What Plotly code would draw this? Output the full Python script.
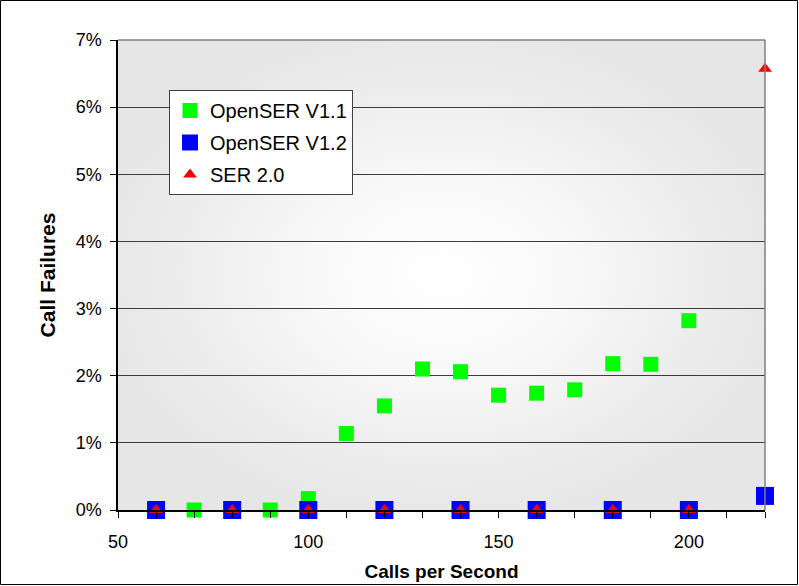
import base64
import plotly.graph_objects as go

# Data
v11_x = [60, 70, 80, 90, 100, 110, 120, 130, 140, 150, 160, 170, 180, 190, 200]
v11_y = [0.0, 0.0, 0.0, 0.0, 0.17, 1.14, 1.55, 2.10, 2.06, 1.71, 1.74, 1.79, 2.18, 2.17, 2.82]

v12_x = [60, 80, 100, 120, 140, 160, 180, 200, 220]
v12_y = [0.0, 0.0, 0.0, 0.0, 0.0, 0.0, 0.0, 0.0, 0.21]

ser_x = [60, 80, 100, 120, 140, 160, 180, 200, 220]
ser_y = [0.0, 0.0, 0.0, 0.0, 0.0, 0.0, 0.0, 0.0, 6.57]

x_range = [50, 220]
y_range = [0, 7]
x_ticks = [50, 100, 150, 200]
y_ticks = [0, 1, 2, 3, 4, 5, 6, 7]
y_ticktext = [f"{v}%" for v in y_ticks]

W, H = 799, 586
ML, MR, MT, MB = 118, 34, 40, 76
PW, PH = W - ML - MR, H - MT - MB

# radial grey gradient for the plot area background (as an SVG image)
svg = (
    '<svg xmlns="http://www.w3.org/2000/svg" width="200" height="200" viewBox="0 0 200 200" '
    'preserveAspectRatio="none">'
    '<defs><radialGradient id="g" cx="50%" cy="50%" r="55%">'
    '<stop offset="0" stop-color="#ffffff"/>'
    '<stop offset="0.35" stop-color="#f9f9f9"/>'
    '<stop offset="0.75" stop-color="#ececec"/>'
    '<stop offset="1" stop-color="#e6e6e6"/>'
    '</radialGradient></defs>'
    '<rect width="200" height="200" fill="url(#g)"/></svg>'
)
bg_src = "data:image/svg+xml;base64," + base64.b64encode(svg.encode()).decode()

fig = go.Figure()

fig.add_trace(go.Scatter(
    x=v11_x, y=v11_y, mode="markers", name="OpenSER V1.1", legendgroup="a",
    marker=dict(symbol="square", size=15, color="#00ff00", line=dict(width=0)),
    cliponaxis=False,
))
fig.add_trace(go.Scatter(
    x=v12_x, y=v12_y, mode="markers", name="OpenSER V1.2", legendgroup="b",
    marker=dict(symbol="square", size=18, color="#0000ff", line=dict(width=0)),
    cliponaxis=False,
))
fig.add_trace(go.Scatter(
    x=ser_x, y=ser_y, mode="markers", name="SER 2.0", legendgroup="c",
    marker=dict(symbol="triangle-up", size=12, color="#ff0000", line=dict(width=0)),
    cliponaxis=False,
))

FAM = "Liberation Sans, Arial, sans-serif"

fig.update_layout(
    width=W, height=H,
    margin=dict(l=ML, r=MR, t=MT, b=MB, autoexpand=False),
    paper_bgcolor="#ffffff",
    plot_bgcolor="#e8e8e8",
    font=dict(family=FAM, size=18, color="#000000"),
    showlegend=True,
    images=[dict(source=bg_src, xref="paper", yref="paper", x=0, y=1,
                 sizex=1, sizey=1, sizing="stretch", layer="below",
                 xanchor="left", yanchor="top")],
    legend=dict(
        x=(169 - ML) / PW, y=1 - (90 - MT) / PH,
        xanchor="left", yanchor="top",
        bgcolor="#ffffff", bordercolor="#404040", borderwidth=1,
        font=dict(family=FAM, size=20, color="#000000"),
        tracegroupgap=3, itemwidth=30,
    ),
    xaxis=dict(
        range=x_range, tickvals=x_ticks, ticks="outside", ticklen=6, tickcolor="#000000",
        showline=True, linecolor="#000000", linewidth=1.5, mirror=False,
        showgrid=False, zeroline=False, ticklabelstandoff=9, automargin=False,
        minor=dict(dtick=10, tick0=50, ticks="outside", ticklen=6, tickcolor="#000000", showgrid=False),
        title=dict(text="<b>Calls per Second</b>", font=dict(size=19), standoff=13),
        tickfont=dict(size=18),
    ),
    yaxis=dict(
        range=y_range, tickvals=y_ticks, ticktext=y_ticktext, ticks="outside", ticklen=6,
        tickcolor="#000000",
        showline=True, linecolor="#000000", linewidth=1.5,
        showgrid=True, gridcolor="#3c3c3c", gridwidth=1, zeroline=False,
        ticklabelstandoff=5, automargin=False,
        title=dict(text="<b>Call Failures</b>", font=dict(size=21), standoff=14),
        tickfont=dict(size=18),
    ),
    shapes=[
        dict(type="line", xref="paper", yref="paper", x0=0, x1=1, y0=1, y1=1,
             line=dict(color="#808080", width=1.5)),
        dict(type="line", xref="paper", yref="paper", x0=1, x1=1, y0=0, y1=1,
             line=dict(color="#808080", width=1.5)),
        dict(type="rect", xref="paper", yref="paper",
             x0=-(ML - 0.5) / PW, x1=1 + (MR - 1.5) / PW,
             y0=-(MB - 1.5) / PH, y1=1 + (MT - 0.5) / PH,
             line=dict(color="#000000", width=1)),
    ],
)

fig.write_html("out.html")
